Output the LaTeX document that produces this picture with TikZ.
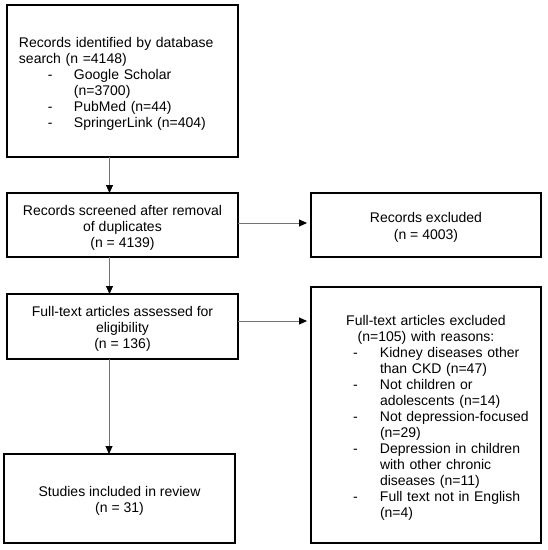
\documentclass[tikz,border=0pt]{standalone}
\usepackage{fontspec}
\setmainfont{Liberation Sans}
\usetikzlibrary{arrows.meta}
\begin{document}
\begin{tikzpicture}[x=1pt,y=-1pt,
  box/.style={draw=black, line width=1.5pt, inner sep=0pt, outer sep=0pt},
  txt/.style={inner sep=0pt, font=\fontsize{14}{16}\selectfont, align=center},
  conn/.style={draw=black!55, line width=0.9pt,
    -{Triangle[length=8pt,width=7pt,fill=black,color=black]}}]
\path[fill=white, use as bounding box] (0,0) rectangle (548,550);

% boxes
\node[box, minimum width=231pt, minimum height=152pt] (ident) at (122.5,81) {};
\node[box, minimum width=231pt, minimum height=64pt] (screen) at (122.5,225) {};
\node[box, minimum width=230pt, minimum height=64pt] (recexcl) at (426,225) {};
\node[box, minimum width=231pt, minimum height=65pt] (assess) at (122.5,326.5) {};
\node[box, minimum width=230pt, minimum height=256pt] (ftexcl) at (426,415) {};
\node[box, minimum width=231pt, minimum height=89pt] (incl) at (119.5,498.5) {};

% texts
\node[txt, text width=207pt, align=left] (identT) at ([yshift=-2.5pt]ident.center)
{Records identified by database\\
search (n =4148)\\
\hspace*{29pt}\makebox[26pt][l]{-}Google Scholar\\
\hspace*{55pt}(n=3700)\\
\hspace*{29pt}\makebox[26pt][l]{-}PubMed (n=44)\\
\hspace*{29pt}\makebox[26pt][l]{-}SpringerLink (n=404)};

\node[txt] (screenT) at ([yshift=-2.5pt]screen.center)
{Records screened after removal\\ of duplicates\\ (n = 4139)};

\node[txt, font=\fontsize{14}{17.5}\selectfont] (recexclT) at ([yshift=-2.5pt]recexcl.center)
{Records excluded\\ (n = 4003)};

\node[txt] (assessT) at ([yshift=-2.5pt]assess.center)
{Full-text articles assessed for\\ eligibility\\ (n = 136)};

\node[txt, text width=146pt, align=left] (ftexclT) at ([yshift=-2.5pt]ftexcl.center)
{\makebox[146pt]{Full-text articles excluded}\\
\makebox[146pt]{(n=105) with reasons:}\\
\makebox[27pt][l]{-}\rlap{Kidney diseases other}\\
\hspace*{27pt}\rlap{than CKD (n=47)}\\
\makebox[27pt][l]{-}\rlap{Not children or}\\
\hspace*{27pt}\rlap{adolescents (n=14)}\\
\makebox[27pt][l]{-}\rlap{Not depression-focused}\\
\hspace*{27pt}\rlap{(n=29)}\\
\makebox[27pt][l]{-}\rlap{Depression in children}\\
\hspace*{27pt}\rlap{with other chronic}\\
\hspace*{27pt}\rlap{diseases (n=11)}\\
\makebox[27pt][l]{-}\rlap{Full text not in English}\\
\hspace*{27pt}\rlap{(n=4)}};

\node[txt] (inclT) at ([yshift=-2.5pt]incl.center)
{Studies included in review\\ (n = 31)};

% connectors
\draw[conn] ([xshift=-13pt]ident.south) -- ([xshift=-13pt]ident.south |- screen.north);
\draw[conn] ([xshift=-13pt]screen.south) -- ([xshift=-13pt]screen.south |- assess.north);
\draw[conn] ([xshift=-13.5pt]assess.south) -- ([xshift=-13.5pt]assess.south |- incl.north);
\draw[conn, shorten >=4pt] ([yshift=2pt]screen.east) -- ([yshift=2pt]screen.east -| recexcl.west);
\draw[conn, shorten >=4pt] ([yshift=5.5pt]assess.east) -- ([yshift=5.5pt]assess.east -| ftexcl.west);
\end{tikzpicture}
\end{document}
